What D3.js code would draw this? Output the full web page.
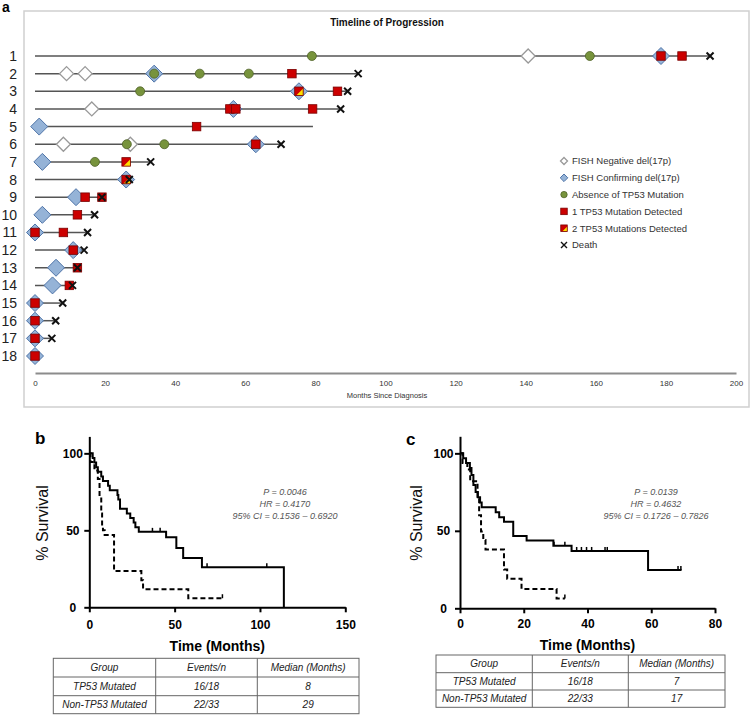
<!DOCTYPE html>
<html><head><meta charset="utf-8">
<script src="https://cdn.jsdelivr.net/npm/d3@7"></script>
<style>body{margin:0;background:#fff}svg{display:block}text{font-family:"Liberation Sans",Arial,sans-serif}</style>
</head><body><svg id="fig" width="753" height="715"></svg>
<script>
// ================= DATA =================
// Panel a: timeline of progression (months since diagnosis)
const patients = d3.range(1, 19);
const lineEnd = [192.6, 92.2, 89.2, 87.2, 79.3, 70.2, 33, 26.9, 19.1, 17, 15, 14, 12.1, 10.7, 7.9, 5.9, 4.8, 0];
const fishNegative = [[1,140.7],[2,9],[2,14.3],[4,16.2],[6,8.1],[6,27.2]];
const fishConfirming = [[1,178.6],[2,34],[3,75.3],[4,56.6],[5,1.2],[6,63],[7,2.1],[8,26],[9,11.7],[10,2.1],[11,0],[12,10.9],[13,6],[14,5],[15,0],[16,0],[17,0],[18,0]];
const noMutation = [[1,79],[1,158.3],[2,34],[2,47],[2,61],[3,30],[6,26.2],[6,36.9],[7,17.1]];
const oneMutation = [[1,178.6],[1,184.6],[2,73.3],[3,86.3],[4,55.6],[4,57.3],[4,79.2],[5,46.1],[6,63],[9,14.3],[9,19.1],[10,12.1],[11,0],[11,8.1],[12,10.9],[13,12.1],[14,9.8],[15,0],[16,0],[17,0],[18,0]];
const twoMutations = [[3,75.3],[7,26],[8,26]];
const deaths = [[1,192.6],[2,92.2],[3,89.2],[4,87.2],[6,70.2],[7,33],[8,26.9],[9,19.1],[10,17],[11,15],[12,14],[13,12.1],[14,10.7],[15,7.9],[16,5.9],[17,4.8]];
const monthTicks = d3.range(0, 201, 20);
const legendLabels = ["FISH Negative del(17p)","FISH Confirming del(17p)","Absence of TP53 Mutation","1 TP53 Mutation Detected","2 TP53 Mutations Detected","Death"];

// Panel b: Kaplan-Meier (months)
const bMutTime = [0, 0.7, 3, 5, 6, 7, 7.5, 8, 9, 14.5, 30.5, 31.5, 58, 78];
const bMutSurv = [100, 94.4, 88.9, 83.3, 72, 61, 53, 50, 47, 23.5, 17.6, 11.8, 5.9, 5.9];
const bMutCensor = [[78, 5.9]];
const bNonTime = [0, 2, 3, 4, 5, 7, 8, 11, 12, 16.5, 17, 18, 22, 24, 26, 27, 29, 45, 51, 55, 66, 114];
const bNonSurv = [100, 97, 94, 91, 88, 85, 82, 79, 76, 73, 70, 64, 61, 58, 55, 52, 49, 45.5, 38.5, 32, 26, 0];
const bNonCensor = [[37, 49], [41.5, 49], [69, 26], [104, 26]];
const bStats = ["P = 0.0046", "HR = 0.4170", "95% CI = 0.1536 – 0.6920"];
const bXTicks = [0, 50, 100, 150];

// Panel c: Kaplan-Meier (months)
const cMutTime = [0, 0.8, 2.3, 3.2, 5.5, 6, 6.6, 7.3, 8, 13.8, 14.8, 19.3, 30.3, 32.9];
const cMutSurv = [100, 93.8, 89.6, 82, 72, 60, 49.5, 44, 38, 25, 19, 12.5, 6.25, 6.25];
const cMutCensor = [[32.9, 6.25]];
const cNonTime = [0, 1, 1.9, 3.1, 3.6, 4.2, 4.9, 5.6, 6.3, 6.8, 11.2, 12.3, 13.8, 16.7, 20.9, 29.3, 35, 59, 69.5];
const cNonSurv = [100, 96.9, 93.8, 90.6, 86, 79.6, 75, 71.6, 68.2, 65.2, 62, 58.7, 55.8, 46.7, 43.7, 40.4, 37, 24.7, 24.7];
const cNonCensor = [[29.5,40.4],[32.9,40.4],[36.6,37],[38.1,37],[39.7,37],[41.3,37],[45.5,37],[46.2,37],[68.4,24.7],[69.3,24.7]];
const cStats = ["P = 0.0139", "HR = 0.4632", "95% CI = 0.1726 – 0.7826"];
const cXTicks = [0, 20, 40, 60, 80];
const yTicksKM = [0, 50, 100];

// Tables
const tableHeader = ["Group", "Events/n", "Median (Months)"];
const groups = ["TP53 Mutated", "Non-TP53 Mutated"];
const eventsB = ["16/18", "22/33"];
const mediansB = ["8", "29"];
const eventsC = ["16/18", "22/33"];
const mediansC = ["7", "17"];

// ================= DRAW =================
const svg = d3.select("#fig");
const C = {blueF:"#95b3d7", blueS:"#4f74a8", green:"#77933c", greenS:"#4f6228", red:"#cc0000", redS:"#7a0000", yellow:"#ffe000"};

// ---- Panel a ----
svg.append("text").attr("x", 2).attr("y", 12).attr("font-size", 14).attr("font-weight", "bold").text("a");
svg.append("rect").attr("x", 24).attr("y", 11).attr("width", 725).attr("height", 396)
  .attr("fill", "none").attr("stroke", "#cfcfcf").attr("stroke-width", 1.5);
svg.append("text").attr("x", 387).attr("y", 26).attr("text-anchor", "middle").attr("font-size", 10)
  .attr("font-weight", "bold").attr("fill", "#111").text("Timeline of Progression");

const xa = d3.scaleLinear().domain([0, 200]).range([35, 736]);
const ya = d3.scaleLinear().domain([1, 18]).range([56, 356]);
const ga = svg.append("g");

const axA = ga.append("g").attr("transform", "translate(0,373)")
  .call(d3.axisBottom(xa).tickValues(monthTicks).tickSize(0).tickPadding(7));
axA.select(".domain").attr("stroke", "#8c8c8c").attr("stroke-width", 2);
axA.selectAll("text").attr("font-size", 8).attr("fill", "#333").attr("font-family", "Liberation Sans, Arial");
ga.append("text").attr("x", 387).attr("y", 398).attr("text-anchor", "middle").attr("font-size", 7.5)
  .attr("fill", "#333").text("Months Since Diagnosis");

ga.selectAll(".rl").data(patients).join("text").attr("x", 17).attr("y", d => ya(d) + 5)
  .attr("text-anchor", "end").attr("font-size", 14).attr("fill", "#222").text(d => d);

ga.selectAll(".pl").data(patients.filter((p, i) => lineEnd[i] > 0)).join("line")
  .attr("x1", xa(0)).attr("x2", d => xa(lineEnd[d - 1]))
  .attr("y1", d => ya(d)).attr("y2", d => ya(d)).attr("stroke", "#555").attr("stroke-width", 1.5);

const diamondPath = r => `M0,${-r}L${r},0L0,${r}L${-r},0Z`;
function drawOpenDiamond(g, x, y, r) {
  g.append("path").attr("d", diamondPath(r)).attr("transform", `translate(${x},${y})`)
    .attr("fill", "#fff").attr("stroke", "#999").attr("stroke-width", 1.3);
}
function drawBlueDiamond(g, x, y, r) {
  g.append("path").attr("d", diamondPath(r)).attr("transform", `translate(${x},${y})`)
    .attr("fill", C.blueF).attr("stroke", C.blueS).attr("stroke-width", 1);
}
function drawCircle(g, x, y, r) {
  g.append("circle").attr("cx", x).attr("cy", y).attr("r", r).attr("fill", C.green).attr("stroke", C.greenS).attr("stroke-width", 0.8);
}
function drawSquare(g, x, y, s) {
  g.append("rect").attr("x", x - s / 2).attr("y", y - s / 2).attr("width", s).attr("height", s)
    .attr("fill", C.red).attr("stroke", C.redS).attr("stroke-width", 0.8);
}
function drawTwo(g, x, y, s) {
  const h = s / 2;
  g.append("rect").attr("x", x - h).attr("y", y - h).attr("width", s).attr("height", s).attr("fill", C.red);
  g.append("path").attr("d", `M${x + h},${y - h + 1.5}L${x + h},${y + h}L${x - h + 1.5},${y + h}Z`).attr("fill", C.yellow);
  g.append("rect").attr("x", x - h).attr("y", y - h).attr("width", s).attr("height", s)
    .attr("fill", "none").attr("stroke", C.redS).attr("stroke-width", 0.8);
}
function drawX(g, x, y, r, w) {
  g.append("path").attr("d", `M${x - r},${y - r}L${x + r},${y + r}M${x - r},${y + r}L${x + r},${y - r}`)
    .attr("stroke", "#111").attr("stroke-width", w);
}

fishNegative.forEach(([p, m]) => drawOpenDiamond(ga, xa(m), ya(p), 7));
fishConfirming.forEach(([p, m]) => drawBlueDiamond(ga, xa(m), ya(p), 8.5));
noMutation.forEach(([p, m]) => drawCircle(ga, xa(m), ya(p), 4.5));
oneMutation.forEach(([p, m]) => drawSquare(ga, xa(m), ya(p), 8.5));
twoMutations.forEach(([p, m]) => drawTwo(ga, xa(m), ya(p), 8.5));
deaths.forEach(([p, m]) => drawX(ga, xa(m), ya(p), 3.5, 2));

// legend
const legY = d3.scaleLinear().domain([0, 5]).range([161, 245]);
const lg = svg.append("g");
const lx = 564;
drawOpenDiamond(lg, lx, legY(0), 3.5);
drawBlueDiamond(lg, lx, legY(1), 3.8);
drawCircle(lg, lx, legY(2), 3.2);
drawSquare(lg, lx, legY(3), 6.5);
drawTwo(lg, lx, legY(4), 6.5);
drawX(lg, lx, legY(5), 3, 1.4);
lg.selectAll(".lt").data(legendLabels).join("text").attr("x", 572).attr("y", (d, i) => legY(i) + 3.4)
  .attr("font-size", 9.5).attr("fill", "#333").text(d => d);

// ---- KM panels ----
function kmPanel(cfg) {
  const g = svg.append("g");
  const x = d3.scaleLinear().domain(cfg.xDomain).range(cfg.xRange);
  const y = d3.scaleLinear().domain([0, 111]).range(cfg.yRange);
  g.append("text").attr("x", cfg.labelPos[0]).attr("y", cfg.labelPos[1]).attr("font-size", 17)
    .attr("font-weight", "bold").text(cfg.label);

  const line = d3.line().x(d => x(d[0])).y(d => y(d[1])).curve(d3.curveStepAfter);
  cfg.curves.forEach(cv => {
    g.append("path").attr("d", line(d3.zip(cv.t, cv.s))).attr("fill", "none").attr("stroke", "#000")
      .attr("stroke-width", 2).attr("stroke-dasharray", cv.dash ? "5,3" : null);
    cv.censor.forEach(([t, s]) => g.append("line").attr("x1", x(t)).attr("x2", x(t))
      .attr("y1", y(s)).attr("y2", y(s) - 4).attr("stroke", "#000").attr("stroke-width", 1.5));
  });

  const ax = g.append("g").attr("transform", `translate(0,${cfg.yRange[0]})`)
    .call(d3.axisBottom(x).tickValues(cfg.xTicks).tickSize(5).tickSizeOuter(0).tickPadding(cfg.xPad));
  const ay = g.append("g").attr("transform", `translate(${cfg.xRange[0]},0)`)
    .call(d3.axisLeft(y).tickValues(yTicksKM).tickSize(5).tickSizeOuter(0).tickFormat(d3.format("d")));
  [ax, ay].forEach(a => {
    a.select(".domain").attr("stroke", "#000").attr("stroke-width", 2);
    a.selectAll(".tick line").attr("stroke", "#000").attr("stroke-width", 2);
    a.selectAll("text").attr("font-size", 12).attr("font-weight", "bold").attr("fill", "#000")
      .attr("font-family", "Liberation Sans, Arial");
  });
  ay.selectAll("text").attr("text-anchor", "middle").attr("x", -16.5);

  g.append("text").attr("x", (cfg.xRange[0] + cfg.xRange[1]) / 2).attr("y", cfg.titleY)
    .attr("text-anchor", "middle").attr("font-size", 14).attr("font-weight", "bold").text("Time (Months)");
  g.append("text").attr("transform", `translate(${cfg.yLabelX},523) rotate(-90)`).attr("text-anchor", "middle")
    .attr("font-size", 16).attr("fill", "#111").text("% Survival");
  g.selectAll(".st").data(cfg.stats).join("text").attr("x", cfg.statsX)
    .attr("y", (d, i) => 494.5 + i * 12.3).attr("text-anchor", "middle").attr("font-size", 9)
    .attr("font-style", "italic").attr("fill", "#555").text(d => d);

  // table
  const t = cfg.table;
  const colX = t.cols, rowY = t.rows;
  const rowsData = [tableHeader].concat(groups.map((gname, i) => [gname, t.events[i], t.medians[i]]));
  g.append("rect").attr("x", colX[0]).attr("y", rowY[0]).attr("width", colX[3] - colX[0])
    .attr("height", rowY[3] - rowY[0]).attr("fill", "none").attr("stroke", "#666").attr("stroke-width", 1);
  [1, 2].forEach(i => g.append("line").attr("x1", colX[i]).attr("x2", colX[i]).attr("y1", rowY[0]).attr("y2", rowY[3])
    .attr("stroke", "#666").attr("stroke-width", 1));
  [1, 2].forEach(i => g.append("line").attr("x1", colX[0]).attr("x2", colX[3]).attr("y1", rowY[i]).attr("y2", rowY[i])
    .attr("stroke", "#666").attr("stroke-width", 1));
  rowsData.forEach((row, r) => row.forEach((cell, c) => {
    g.append("text").attr("x", (colX[c] + colX[c + 1]) / 2).attr("y", (rowY[r] + rowY[r + 1]) / 2 + 3.6)
      .attr("text-anchor", "middle").attr("font-size", 10).attr("font-style", "italic").attr("fill", "#222").text(cell);
  }));
}

kmPanel({
  label: "b", labelPos: [35, 444],
  xDomain: [0, 150], xRange: [89.3, 345.3], yRange: [607.3, 436.4], xTicks: bXTicks, xPad: 8,
  titleY: 651, yLabelX: 48, stats: bStats, statsX: 285,
  curves: [
    {t: bNonTime, s: bNonSurv, censor: bNonCensor, dash: false},
    {t: bMutTime, s: bMutSurv, censor: bMutCensor, dash: true}
  ],
  table: {cols: [53.3, 155.7, 257.3, 359], rows: [658.3, 677, 695.7, 713.7], events: eventsB, medians: mediansB}
});
kmPanel({
  label: "c", labelPos: [406, 445],
  xDomain: [0, 80], xRange: [460, 715], yRange: [608.3, 436.3], xTicks: cXTicks, xPad: 6.5,
  titleY: 650, yLabelX: 422, stats: cStats, statsX: 656,
  curves: [
    {t: cNonTime, s: cNonSurv, censor: cNonCensor, dash: false},
    {t: cMutTime, s: cMutSurv, censor: cMutCensor, dash: true}
  ],
  table: {cols: [436, 532.3, 628.3, 725], rows: [655, 672.7, 690, 707.3], events: eventsC, medians: mediansC}
});
</script></body></html>
